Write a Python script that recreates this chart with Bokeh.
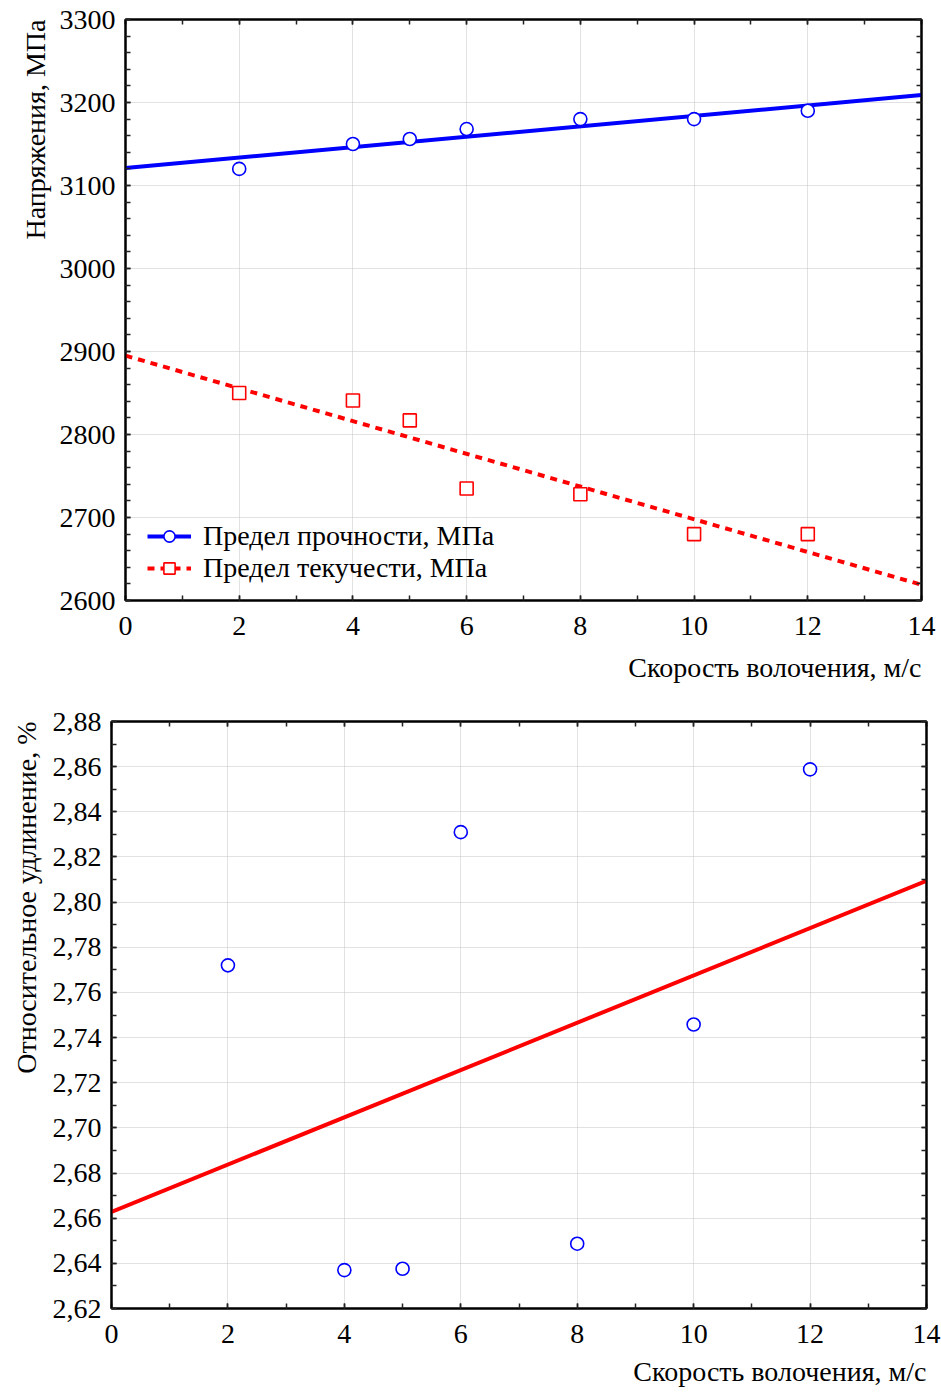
from bokeh.plotting import figure
from bokeh.models import (Range1d, LinearAxis, FixedTicker, Title, Legend, LegendItem,
                          CustomJSTickFormatter)
from bokeh.layouts import column, row
from bokeh.embed import file_html
from bokeh.resources import INLINE

# ---------------- data ----------------
speed = [2, 4, 5, 6, 8, 10, 12]
strength = [3120, 3150, 3156, 3168, 3180, 3180, 3190]     # Предел прочности, МПа
yield_pt = [2850, 2841, 2817, 2735, 2728, 2680, 2680]     # Предел текучести, МПа
fit_x = [0, 14]
strength_fit = [3121, 3209]
yield_fit = [2895, 2619]

elong = [2.772, 2.637, 2.6376, 2.831, 2.6487, 2.7458, 2.8588]  # Относительное удлинение, %
elong_fit = [2.6628, 2.8094]

x_major = [0, 2, 4, 6, 8, 10, 12, 14]
x_minor = list(range(0, 15))
y1_major = [2600, 2700, 2800, 2900, 3000, 3100, 3200, 3300]
y1_minor = list(range(2600, 3301, 20))
y2_major = [2.62, 2.64, 2.66, 2.68, 2.70, 2.72, 2.74, 2.76, 2.78, 2.80, 2.82, 2.84, 2.86, 2.88]
y2_minor = [round(2.62 + 0.01 * i, 2) for i in range(27)]

FONT = "Liberation Serif"
FS = "28px"


def style_axis(ax, major, minor, labels=True):
    ax.ticker = FixedTicker(ticks=major, minor_ticks=minor)
    ax.axis_line_width = 2
    ax.axis_line_color = "black"
    ax.major_tick_in = 5
    ax.major_tick_out = 0
    ax.minor_tick_in = 5
    ax.minor_tick_out = 0
    ax.major_tick_line_width = 1.5
    ax.minor_tick_line_width = 1.5
    ax.major_tick_line_color = "#222222"
    ax.minor_tick_line_color = "#222222"
    ax.major_label_text_font = FONT
    ax.major_label_text_font_size = FS
    ax.major_label_text_color = "black"
    if not labels:
        ax.major_label_text_font_size = "0px"
        ax.major_label_text_alpha = 0


def make_fig(height, yr, left, right, top, bottom):
    p = figure(width=941, height=height, output_backend="svg", toolbar_location=None,
               x_range=Range1d(0, 14), y_range=yr,
               min_border_left=left, min_border_right=right,
               min_border_top=top, min_border_bottom=bottom)
    p.background_fill_color = "white"
    p.border_fill_color = "white"
    p.outline_line_color = "black"
    p.outline_line_width = 2
    for g in (p.xgrid[0], p.ygrid[0]):
        g.grid_line_color = "#c4c4c4"
        g.grid_line_dash = "1 1"
        g.grid_line_width = 1
    return p


def add_titles(p, xtext, ytext, xstand, ystand):
    tx = Title(text=xtext, align="right", text_font=FONT, text_font_size=FS,
               text_font_style="normal", text_color="black", standoff=xstand)
    p.add_layout(tx, "below")
    ty = Title(text=ytext, align="right", text_font=FONT, text_font_size=FS,
               text_font_style="normal", text_color="black", standoff=ystand)
    p.add_layout(ty, "left")


# ---------------- top chart ----------------
p1 = make_fig(695, Range1d(2600, 3300), 125, 20, 19, 95)
style_axis(p1.xaxis[0], x_major, x_minor)
style_axis(p1.yaxis[0], y1_major, y1_minor)
p1.xaxis[0].major_label_standoff = 16
p1.yaxis[0].major_label_standoff = 10
p1.xgrid[0].ticker = FixedTicker(ticks=x_major)
p1.ygrid[0].ticker = FixedTicker(ticks=y1_major)
top1 = LinearAxis()
style_axis(top1, x_major, x_minor, labels=False)
p1.add_layout(top1, "above")
right1 = LinearAxis()
style_axis(right1, y1_major, y1_minor, labels=False)
p1.add_layout(right1, "right")

l_blue = p1.line(fit_x, strength_fit, line_color="#0000ff", line_width=4)
c_blue = p1.scatter(speed, strength, marker="circle", size=13, fill_color="white",
                    line_color="#0000ff", line_width=1.6)
l_red = p1.line(fit_x, yield_fit, line_color="#ff0000", line_width=4, line_dash="7 6")
s_red = p1.scatter(speed, yield_pt, marker="square", size=13, fill_color="white",
                   line_color="#ff0000", line_width=1.6)

leg = Legend(items=[LegendItem(label="Предел прочности, МПа", renderers=[l_blue, c_blue]),
                    LegendItem(label="Предел текучести, МПа", renderers=[l_red, s_red])],
             location=(18, 12), orientation="vertical")
leg.label_text_font = FONT
leg.label_text_font_size = FS
leg.label_text_color = "black"
leg.border_line_alpha = 0
leg.background_fill_alpha = 0
leg.glyph_width = 44
leg.glyph_height = 28
leg.label_standoff = 12
leg.label_height = 28
leg.spacing = 0
leg.padding = 4
p1.add_layout(leg, "center")

add_titles(p1, "Скорость волочения, м/с", "Напряжения, МПа", 24, 12)

# ---------------- bottom chart ----------------
p2 = make_fig(699, Range1d(2.62, 2.88), 110, 15, 26, 84)
style_axis(p2.xaxis[0], x_major, x_minor)
style_axis(p2.yaxis[0], y2_major, y2_minor)
p2.xaxis[0].major_label_standoff = 16
p2.yaxis[0].major_label_standoff = 10
p2.yaxis[0].formatter = CustomJSTickFormatter(code="return tick.toFixed(2).replace('.', ',');")
p2.xgrid[0].ticker = FixedTicker(ticks=x_major)
p2.ygrid[0].ticker = FixedTicker(ticks=y2_major)
top2 = LinearAxis()
style_axis(top2, x_major, x_minor, labels=False)
p2.add_layout(top2, "above")
right2 = LinearAxis()
style_axis(right2, y2_major, y2_minor, labels=False)
p2.add_layout(right2, "right")

p2.line(fit_x, elong_fit, line_color="#ff0000", line_width=4)
p2.scatter(speed, elong, marker="circle", size=13, fill_color="white",
           line_color="#0000ff", line_width=1.6)

add_titles(p2, "Скорость волочения, м/с", "Относительное удлинение, %", 16, 16)

layout = column(row(p1), row(p2), spacing=0)
open("out.html", "w").write(file_html(layout, INLINE))
